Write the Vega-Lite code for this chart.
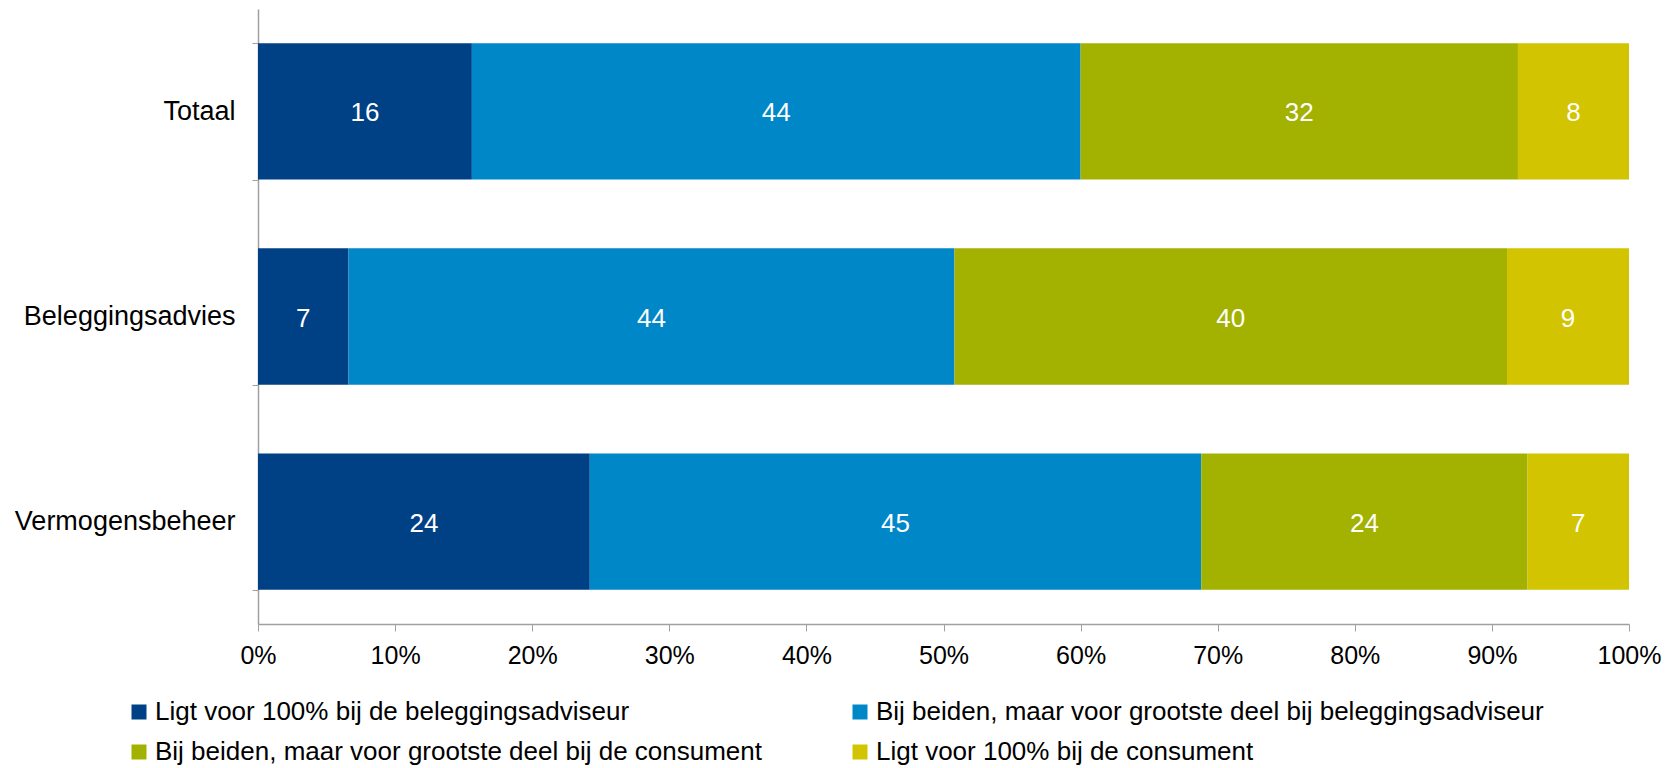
{
  "$schema": "https://vega.github.io/schema/vega-lite/v6.json",
  "width": 1371,
  "height": 615,
  "autosize": "none",
  "padding": {"left": 258, "top": 9, "right": 48, "bottom": 144},
  "background": "white",
  "config": {
    "view": {"stroke": null},
    "font": "Liberation Sans"
  },
  "data": {
    "values": [
      {"cat": "Totaal", "resp": "Ligt voor 100% bij de beleggingsadviseur", "ord": 1, "v": 15.6},
      {"cat": "Totaal", "resp": "Bij beiden, maar voor grootste deel bij beleggingsadviseur", "ord": 2, "v": 44.4},
      {"cat": "Totaal", "resp": "Bij beiden, maar voor grootste deel bij de consument", "ord": 3, "v": 31.9},
      {"cat": "Totaal", "resp": "Ligt voor 100% bij de consument", "ord": 4, "v": 8.1},
      {"cat": "Beleggingsadvies", "resp": "Ligt voor 100% bij de beleggingsadviseur", "ord": 1, "v": 6.6},
      {"cat": "Beleggingsadvies", "resp": "Bij beiden, maar voor grootste deel bij beleggingsadviseur", "ord": 2, "v": 44.2},
      {"cat": "Beleggingsadvies", "resp": "Bij beiden, maar voor grootste deel bij de consument", "ord": 3, "v": 40.3},
      {"cat": "Beleggingsadvies", "resp": "Ligt voor 100% bij de consument", "ord": 4, "v": 8.9},
      {"cat": "Vermogensbeheer", "resp": "Ligt voor 100% bij de beleggingsadviseur", "ord": 1, "v": 24.2},
      {"cat": "Vermogensbeheer", "resp": "Bij beiden, maar voor grootste deel bij beleggingsadviseur", "ord": 2, "v": 44.6},
      {"cat": "Vermogensbeheer", "resp": "Bij beiden, maar voor grootste deel bij de consument", "ord": 3, "v": 23.8},
      {"cat": "Vermogensbeheer", "resp": "Ligt voor 100% bij de consument", "ord": 4, "v": 7.4}
    ]
  },
  "transform": [
    {"stack": "v", "groupby": ["cat"], "sort": [{"field": "ord", "order": "ascending"}], "as": ["x0", "x1"]},
    {"calculate": "(datum.x0 + datum.x1) / 2", "as": "xm"}
  ],
  "encoding": {
    "y": {
      "field": "cat",
      "type": "nominal",
      "sort": ["Totaal", "Beleggingsadvies", "Vermogensbeheer"],
      "scale": {"paddingInner": 0.335, "paddingOuter": 0.167},
      "axis": {
        "title": null,
        "tickBand": "extent",
        "tickSize": 6,
        "tickColor": "#A0A0A0",
        "domainColor": "#A0A0A0",
        "domainWidth": 1.5,
        "labelFontSize": 27,
        "labelLimit": 400,
        "labelColor": "#000000",
        "labelPadding": 17
      }
    }
  },
  "layer": [
    {
      "mark": {"type": "bar"},
      "encoding": {
        "x": {
          "field": "x0",
          "type": "quantitative",
          "scale": {"domain": [0, 100], "nice": false},
          "axis": {
            "title": null,
            "values": [0, 10, 20, 30, 40, 50, 60, 70, 80, 90, 100],
            "labelExpr": "datum.value + '%'",
            "grid": false,
            "tickSize": 7,
            "tickColor": "#A0A0A0",
            "domainColor": "#A0A0A0",
            "domainWidth": 1.5,
            "labelFontSize": 25,
            "labelColor": "#000000",
            "labelPadding": 12,
            "labelFlush": false
          }
        },
        "x2": {"field": "x1"},
        "color": {
          "field": "resp",
          "type": "nominal",
          "sort": [
            "Ligt voor 100% bij de beleggingsadviseur",
            "Bij beiden, maar voor grootste deel bij beleggingsadviseur",
            "Bij beiden, maar voor grootste deel bij de consument",
            "Ligt voor 100% bij de consument"
          ],
          "scale": {
            "domain": [
              "Ligt voor 100% bij de beleggingsadviseur",
              "Bij beiden, maar voor grootste deel bij beleggingsadviseur",
              "Bij beiden, maar voor grootste deel bij de consument",
              "Ligt voor 100% bij de consument"
            ],
            "range": ["#004186", "#0087C8", "#A3B100", "#D2C400"]
          },
          "legend": {
            "title": null,
            "orient": "none",
            "legendX": -132,
            "legendY": 690,
            "direction": "horizontal",
            "columns": 2,
            "columnPadding": 84,
            "rowPadding": 14,
            "symbolType": "square",
            "symbolSize": 225,
            "symbolStrokeWidth": 0,
            "labelFontSize": 26,
            "labelColor": "#000000",
            "labelOffset": 3,
            "labelLimit": 1000
          }
        }
      }
    },
    {
      "mark": {"type": "text", "color": "white", "fontSize": 26, "align": "center", "baseline": "middle", "dy": 2},
      "encoding": {
        "x": {"field": "xm", "type": "quantitative"},
        "text": {"field": "v", "type": "quantitative", "format": ".0f"}
      }
    }
  ]
}
